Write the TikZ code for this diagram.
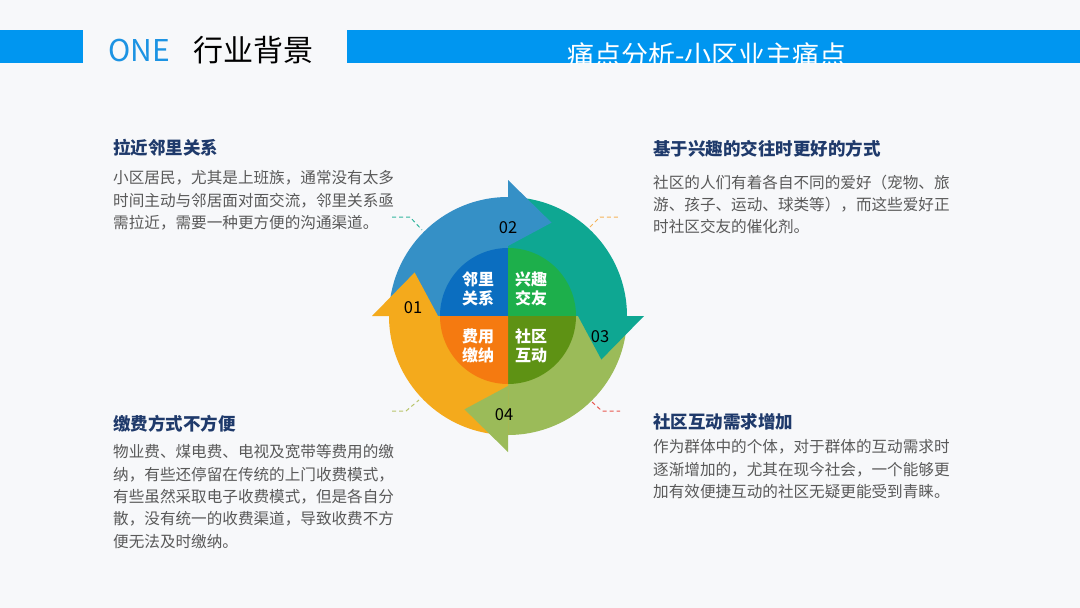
\documentclass[tikz,border=0pt]{standalone}
\usepackage{fontspec}
\setmainfont{Noto Sans CJK SC}
\definecolor{bg}{HTML}{F7F8FA}
\definecolor{bar}{HTML}{0096F0}
\definecolor{onecol}{HTML}{1C93E3}
\definecolor{navy}{HTML}{1F3A6B}
\definecolor{bodycol}{HTML}{595959}
\definecolor{arBlue}{HTML}{3590C6}
\definecolor{arTeal}{HTML}{0EA792}
\definecolor{arOlive}{HTML}{9BBB59}
\definecolor{arYellow}{HTML}{F4AA1C}
\definecolor{qBlue}{HTML}{0B6EC0}
\definecolor{qGreen}{HTML}{1DAF4B}
\definecolor{qOrange}{HTML}{F57A10}
\definecolor{qDark}{HTML}{5E9214}
\definecolor{dTeal}{HTML}{33B69E}
\definecolor{dOrange}{HTML}{F6B45A}
\definecolor{dOlive}{HTML}{B9C56C}
\definecolor{dRed}{HTML}{E8574E}
\newcommand\ringbody[2]{%
  \fill[#1] (#2:119) arc[start angle=#2, end angle=#2-90, radius=119]
    -- (#2-90:60) arc[start angle=#2-90, end angle=#2, radius=60] -- cycle;}
\newcommand\ringhead[2]{%
  \fill[#1] (#2-90:70) -- (#2-90:136) -- (#2-115:103) -- cycle;}
\tikzset{
  headtext/.style={anchor=west, inner sep=0pt, text=navy, font=\fontsize{17.5}{20}\selectfont\bfseries},
  bodytext/.style={anchor=north west, inner sep=0pt, text=bodycol, align=left, font=\fontsize{15.6}{22.3}\selectfont},
  quadlabel/.style={inner sep=0pt, text=white, align=center, font=\fontsize{16}{18.5}\selectfont\bfseries},
  numlabel/.style={inner sep=0pt, text=black, font=\fontsize{16.5}{18}\selectfont},
  leader/.style={line width=1pt, dash pattern=on 4pt off 3pt},
}
\begin{document}
\begin{tikzpicture}[x=1pt,y=-1pt]
\useasboundingbox (0,0) rectangle (1080,608);
\fill[bg] (0,0) rectangle (1080,608);
% header bars
\fill[bar] (0,30) rectangle (83,63);
\fill[bar] (347,30) rectangle (1080,63);
\node[anchor=base west, inner sep=0pt, text=onecol, font=\fontsize{30}{32}\selectfont] (one) at (108,61) {ONE};
\node[anchor=base west, inner sep=0pt, text=black, font=\fontsize{30}{32}\selectfont] (sect) at (193,61) {行业背景};
\begin{scope}
  \clip (347,30) rectangle (1080,63);
  \node[anchor=west, inner sep=0pt, text=white, font=\fontsize{27}{30}\selectfont] (title) at (567,55) {痛点分析-小区业主痛点};
\end{scope}
% cycle diagram
\begin{scope}[shift={(508,316)}, y=1pt]
  \ringbody{arBlue}{180}
  \ringbody{arTeal}{90}
  \ringbody{arOlive}{0}
  \ringbody{arYellow}{-90}
  \ringhead{arBlue}{180}
  \ringhead{arTeal}{90}
  \ringhead{arOlive}{0}
  \ringhead{arYellow}{-90}
  \fill[qBlue] (0,0) -- (180:68) arc[start angle=180, end angle=90, radius=68] -- cycle;
  \fill[qGreen] (0,0) -- (90:68) arc[start angle=90, end angle=0, radius=68] -- cycle;
  \fill[qDark] (0,0) -- (0:68) arc[start angle=0, end angle=-90, radius=68] -- cycle;
  \fill[qOrange] (0,0) -- (-90:68) arc[start angle=-90, end angle=-180, radius=68] -- cycle;
\end{scope}
\node[quadlabel] (q1) at (478,289) {邻里\\关系};
\node[quadlabel] (q2) at (531,289) {兴趣\\交友};
\node[quadlabel] (q3) at (478,346) {费用\\缴纳};
\node[quadlabel] (q4) at (531,346) {社区\\互动};
\node[numlabel] (n1) at (413,308) {01};
\node[numlabel] (n2) at (508,228) {02};
\node[numlabel] (n3) at (600,337) {03};
\node[numlabel] (n4) at (504,415) {04};
% leaders
\coordinate (l1a) at (392,217); \coordinate (l1b) at (410,217); \coordinate (l1c) at (422,230);
\coordinate (l2a) at (590,227); \coordinate (l2b) at (600,217); \coordinate (l2c) at (620,217);
\coordinate (l3a) at (392,411); \coordinate (l3b) at (406,411); \coordinate (l3c) at (419,400);
\coordinate (l4a) at (592,402); \coordinate (l4b) at (602,411); \coordinate (l4c) at (620,411);
\draw[leader, dTeal] (l1a) -- (l1b) -- (l1c);
\draw[leader, dOrange] (l2a) -- (l2b) -- (l2c);
\draw[leader, dOlive] (l3a) -- (l3b) -- (l3c);
\draw[leader, dRed] (l4a) -- (l4b) -- (l4c);
% text blocks
\node[headtext] (h1) at (113,148) {拉近邻里关系};
\node[bodytext] (b1) at (113,170.5) {小区居民，尤其是上班族，通常没有太多\\时间主动与邻居面对面交流，邻里关系亟\\需拉近，需要一种更方便的沟通渠道。};
\node[headtext] (h2) at (653,149) {基于兴趣的交往时更好的方式};
\node[bodytext] (b2) at (653,174.5) {社区的人们有着各自不同的爱好（宠物、旅\\游、孩子、运动、球类等），而这些爱好正\\时社区交友的催化剂。};
\node[headtext] (h3) at (113,424) {缴费方式不方便};
\node[bodytext] (b3) at (113,444.5) {物业费、煤电费、电视及宽带等费用的缴\\纳，有些还停留在传统的上门收费模式，\\有些虽然采取电子收费模式，但是各自分\\散，没有统一的收费渠道，导致收费不方\\便无法及时缴纳。};
\node[headtext] (h4) at (653,422) {社区互动需求增加};
\node[bodytext] (b4) at (653,439.5) {作为群体中的个体，对于群体的互动需求时\\逐渐增加的，尤其在现今社会，一个能够更\\加有效便捷互动的社区无疑更能受到青睐。};
\end{tikzpicture}
\end{document}
